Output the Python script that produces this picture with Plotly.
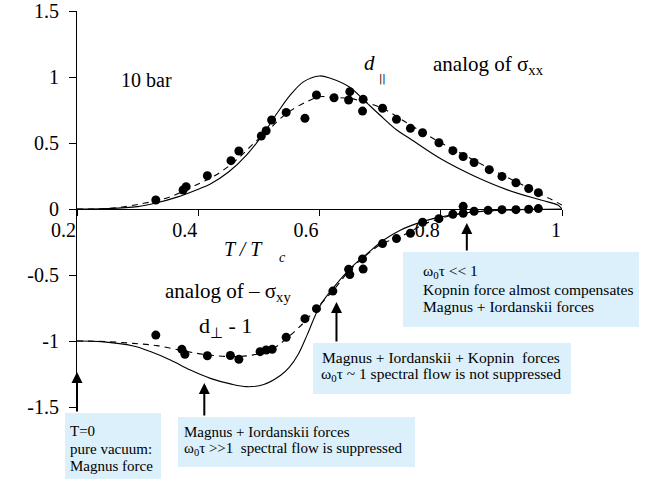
import plotly.graph_objects as go

# measured data points, d_par (analog of sigma_xx)
par_x = [0.330, 0.375, 0.380, 0.415, 0.454, 0.467, 0.504, 0.512, 0.521, 0.545, 0.576, 0.595,
         0.624, 0.648, 0.650, 0.671, 0.672, 0.704, 0.727, 0.750, 0.770, 0.797, 0.820, 0.837,
         0.855, 0.880, 0.901, 0.924, 0.945, 0.961]
par_y = [0.068, 0.144, 0.169, 0.252, 0.366, 0.439, 0.553, 0.593, 0.674, 0.732, 0.687, 0.864,
         0.843, 0.826, 0.889, 0.742, 0.831, 0.763, 0.679, 0.611, 0.578, 0.502, 0.442, 0.398,
         0.352, 0.298, 0.247, 0.199, 0.155, 0.124]

# measured data points, d_perp - 1 (analog of -sigma_xy)
perp_x = [0.330, 0.373, 0.378, 0.415, 0.453, 0.467, 0.502, 0.512, 0.522, 0.545, 0.576, 0.595,
          0.622, 0.648, 0.650, 0.671, 0.672, 0.704, 0.727, 0.750, 0.770, 0.797, 0.820, 0.837,
          0.837, 0.855, 0.878, 0.901, 0.924, 0.945, 0.961]
perp_y = [-0.955, -1.063, -1.101, -1.112, -1.110, -1.139, -1.081, -1.068, -1.063, -0.972, -0.831,
          -0.755, -0.622, -0.457, -0.497, -0.378, -0.455, -0.262, -0.224, -0.184, -0.100, -0.073,
          -0.040, 0.020, -0.033, -0.017, -0.010, -0.005, -0.005, -0.002, 0.003]

# theory (solid) and fit (dashed) curves
par_theory_x = [0.20, 0.25, 0.30, 0.33, 0.365, 0.40, 0.42, 0.45, 0.48, 0.508, 0.53, 0.552, 0.574,
                0.60, 0.618, 0.65, 0.672, 0.70, 0.727, 0.75, 0.80, 0.855, 0.91, 0.965, 0.993, 1.0]
par_theory_y = [0.0, 0.003, 0.018, 0.045, 0.09, 0.15, 0.19, 0.28, 0.41, 0.573, 0.725, 0.864, 0.965,
                1.008, 0.99, 0.922, 0.83, 0.71, 0.60, 0.53, 0.38, 0.25, 0.145, 0.068, 0.03, 0.0]
par_fit_x = [0.20, 0.255, 0.31, 0.354, 0.40, 0.43, 0.46, 0.49, 0.513, 0.546, 0.579, 0.60, 0.624,
             0.65, 0.672, 0.704, 0.75, 0.797, 0.839, 0.88, 0.924, 0.96, 0.982, 1.0]
par_fit_y = [0.0, 0.005, 0.043, 0.093, 0.19, 0.26, 0.36, 0.49, 0.586, 0.725, 0.813, 0.85, 0.845,
             0.838, 0.813, 0.763, 0.636, 0.51, 0.409, 0.308, 0.207, 0.124, 0.073, 0.03]

perp_theory_x = [0.20, 0.24, 0.293, 0.321, 0.354, 0.387, 0.42, 0.453, 0.48, 0.508, 0.536, 0.55,
                 0.565, 0.58, 0.60, 0.624, 0.651, 0.679, 0.706, 0.734, 0.761, 0.789, 0.817, 0.844,
                 0.90, 1.0]
perp_theory_y = [-1.0, -1.005, -1.038, -1.08, -1.144, -1.22, -1.283, -1.325, -1.346, -1.33, -1.26,
                 -1.2, -1.1, -0.95, -0.74, -0.59, -0.449, -0.336, -0.235, -0.159, -0.109, -0.071,
                 -0.045, -0.028, -0.01, 0.0]
perp_fit_x = [0.20, 0.25, 0.293, 0.332, 0.376, 0.415, 0.458, 0.491, 0.524, 0.546, 0.573, 0.595,
              0.621, 0.650, 0.671, 0.704, 0.728, 0.75, 0.775, 0.80, 0.822, 0.85, 0.90, 0.96]
perp_fit_y = [-1.0, -1.005, -1.018, -1.035, -1.075, -1.105, -1.118, -1.105, -1.056, -0.98, -0.866,
              -0.752, -0.626, -0.462, -0.374, -0.26, -0.222, -0.17, -0.11, -0.07, -0.045, -0.025,
              -0.01, 0.0]

x_ticks = [0.2, 0.4, 0.6, 0.8, 1.0]
x_ticktext = ["0.2", "0.4", "0.6", "0.8", "1"]
y_ticks = [1.5, 1.0, 0.5, 0.0, -0.5, -1.0, -1.5]
y_ticktext = ["1.5", "1", "0.5", "0", "-0.5", "-1", "-1.5"]

SERIF = "Liberation Serif"
BOX_BLUE = "#dbf0fb"

# plot area in pixels
L, R, T, B = 77, 562, 11, 407


def px(x):
    return (x - L) / (R - L)


def py(y):
    return (B - y) / (B - T)


fig = go.Figure()

for xs, ys in [(par_theory_x, par_theory_y), (perp_theory_x, perp_theory_y)]:
    fig.add_trace(go.Scatter(x=xs, y=ys, mode="lines", line=dict(color="black", width=1.1, shape="spline"),
                             showlegend=False))
for xs, ys in [(par_fit_x, par_fit_y), (perp_fit_x, perp_fit_y)]:
    fig.add_trace(go.Scatter(x=xs, y=ys, mode="lines",
                             line=dict(color="black", width=1.1, dash="6px,5px", shape="spline"),
                             showlegend=False))
for xs, ys in [(par_x, par_y), (perp_x, perp_y)]:
    fig.add_trace(go.Scatter(x=xs, y=ys, mode="markers", marker=dict(color="black", size=9),
                             showlegend=False))

# light blue boxes
boxes = [(65, 413, 161, 479), (178, 417, 415, 467), (313, 343, 571, 394), (403, 252, 639, 327)]
for x0, y0, x1, y1 in boxes:
    fig.add_shape(type="rect", xref="paper", yref="paper", x0=px(x0), x1=px(x1), y0=py(y1), y1=py(y0),
                  fillcolor=BOX_BLUE, line=dict(width=0), layer="above")

# texts: (left px, middle py, text, size, anchor, family)
texts = [
    (119, 80, "10 bar", 20, "left", SERIF),
    (362, 63, "<i>d</i>", 21, "left", SERIF),
    (377, 79, "||", 10, "left", "DejaVu Sans"),
    (431, 65, "analog of σ<sub>xx</sub>", 21, "left", SERIF),
    (163, 292, "analog of – σ<sub>xy</sub>", 21, "left", SERIF),
    (197, 327, "d<sub>⊥</sub> - 1", 22, "left", SERIF),
    (222, 249, "<i>T / T</i>", 20, "left", SERIF),
    (277, 257, "<i>c</i>", 14, "left", SERIF),
    (68, 431, "T=0", 15, "left", SERIF),
    (68, 449, "pure vacuum:", 15, "left", SERIF),
    (68, 466, "Magnus force", 15, "left", SERIF),
    (182, 432, "Magnus + Iordanskii forces", 15, "left", SERIF),
    (182, 449, "ω<sub>0</sub>τ &gt;&gt;1  spectral flow is suppressed", 15, "left", SERIF),
    (441, 357, "Magnus + Iordanskii + Kopnin  forces", 15.5, "center", SERIF),
    (441, 374, "ω<sub>0</sub>τ ~ 1 spectral flow is not suppressed", 15.5, "center", SERIF),
    (421, 271, "ω<sub>0</sub>τ &lt;&lt; 1", 15.5, "left", SERIF),
    (421, 289, "Kopnin force almost compensates", 15.5, "left", SERIF),
    (421, 306, "Magnus + Iordanskii forces", 15.5, "left", SERIF),
]
for x, y, t, s, anc, fam in texts:
    fig.add_annotation(xref="paper", yref="paper", x=px(x), y=py(y), text=t, showarrow=False,
                       xanchor=anc, yanchor="middle", font=dict(family=fam, size=s, color="black"))

# arrows: tip (data coords), length in px
arrows = [(0.2, -1.235, 41), (0.41, -1.318, 34), (0.628, -0.705, 41), (0.843, -0.106, 29)]
for x, y, ln in arrows:
    fig.add_annotation(x=x, y=y, xref="x", yref="y", ax=0, ay=ln, text="", showarrow=True,
                       arrowhead=2, arrowsize=1.1, arrowwidth=2, arrowcolor="black")

fig.update_xaxes(range=[0.2, 1.0], anchor="free", position=0.5, showline=True, linecolor="black",
                 linewidth=1, ticks="outside", ticklen=6, tickcolor="black", tickvals=x_ticks,
                 ticktext=x_ticktext, ticklabelposition="outside left", ticklabelstandoff=3,
                 showgrid=False, zeroline=False, automargin=False, ticklabeloverflow="allow",
                 tickfont=dict(family=SERIF, size=20, color="black"))
fig.update_yaxes(range=[-1.5, 1.5], showline=True, linecolor="black", linewidth=1, ticks="outside",
                 ticklen=7, tickcolor="black", tickvals=y_ticks, ticktext=y_ticktext,
                 ticklabelstandoff=6, showgrid=False, zeroline=False, automargin=False,
                 ticklabeloverflow="allow", tickfont=dict(family=SERIF, size=20, color="black"))

fig.update_layout(width=654, height=479, margin=dict(l=L, r=654 - R, t=T, b=479 - B),
                  paper_bgcolor="white", plot_bgcolor="white", showlegend=False,
                  font=dict(family=SERIF, color="black"))

# page body has an 8px default margin; drop it so the figure sits at the window corner
fig.write_html("out.html", config={"displayModeBar": False},
               post_script="document.body.style.margin = '0px';")
